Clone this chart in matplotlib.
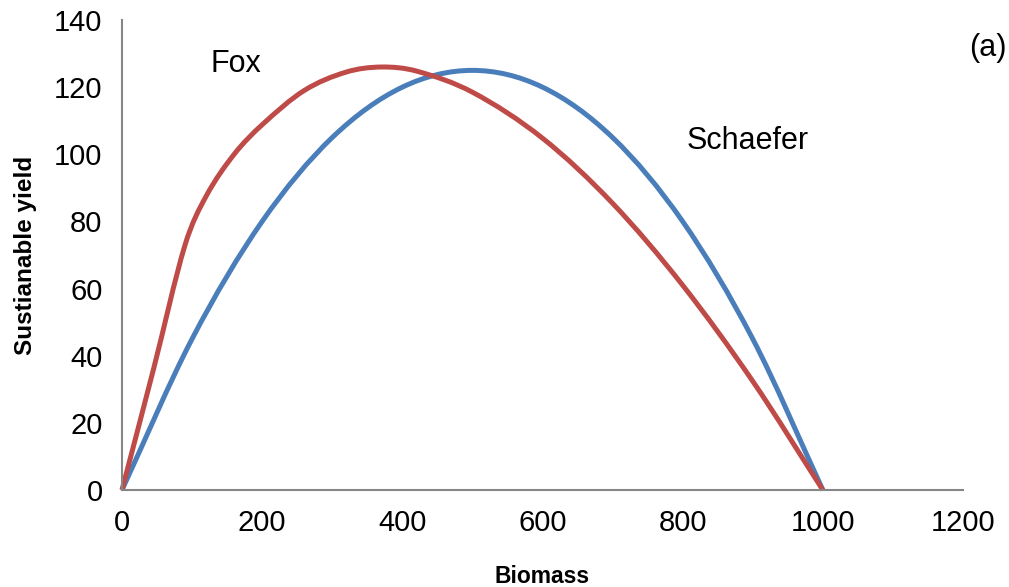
import matplotlib
matplotlib.use("Agg")
import matplotlib.pyplot as plt
from matplotlib.path import Path
from matplotlib.patches import PathPatch

plt.rcParams['font.family'] = ['Liberation Sans', 'DejaVu Sans']

# Werte
biomassSchaefer = [0, 100, 200, 300, 400, 500, 600, 700, 800, 900, 1000]
yieldSchaefer = [0, 45, 80, 105, 120, 125, 120, 105, 80, 45, 0]

biomassFox = [0, 45, 90, 120, 160, 200, 260, 320, 370, 420, 500, 600, 700, 800, 900, 1000]
yieldFox = [0, 36, 73, 87.5, 100, 108.8, 119, 124.5, 126, 124.8, 118.5, 104.8, 85.4, 61.0, 32.4, 0]

xTicks = [0, 200, 400, 600, 800, 1000, 1200]
yTicks = [0, 20, 40, 60, 80, 100, 120, 140]


def smoothLine(ax, xs, ys, color):
    """ geglaettete Linie wie in Excel (Hermite-Kurve als Bezier) """
    n = len(xs)
    # Steigung an jedem Punkt
    slopes = []
    for i in range(n):
        a = max(i - 1, 0)
        b = min(i + 1, n - 1)
        slopes.append((ys[b] - ys[a]) / (xs[b] - xs[a]))
    verts = [(xs[0], ys[0])]
    codes = [Path.MOVETO]
    for i in range(n - 1):
        h = (xs[i + 1] - xs[i]) / 3.0
        c1 = (xs[i] + h, ys[i] + slopes[i] * h)
        c2 = (xs[i + 1] - h, ys[i + 1] - slopes[i + 1] * h)
        verts += [c1, c2, (xs[i + 1], ys[i + 1])]
        codes += [Path.CURVE4] * 3
    patch = PathPatch(Path(verts, codes), facecolor='none', edgecolor=color,
                      linewidth=3.6, joinstyle='round', capstyle='butt', clip_on=False)
    ax.add_patch(patch)


fig = plt.figure(figsize=(10.09, 5.87), dpi=100)
ax = fig.add_axes([0.1209, 0.1653, 0.8335, 0.8006])

smoothLine(ax, biomassSchaefer, yieldSchaefer, '#4A7EBB')
smoothLine(ax, biomassFox, yieldFox, '#BE4B48')

ax.set_xlim(0, 1200)
ax.set_ylim(0, 140)
ax.set_xticks(xTicks)
ax.set_yticks(yTicks)
ax.tick_params(length=0, labelsize=21, pad=14)
ax.tick_params(axis='y', pad=14)

for side in ['top', 'right']:
    ax.spines[side].set_visible(False)
for side in ['left', 'bottom']:
    ax.spines[side].set_color('#868686')
    ax.spines[side].set_linewidth(1.5)

ax.set_xlabel('Biomass', fontsize=16.5, fontweight='bold', labelpad=20)
ax.set_ylabel('Sustianable yield', fontsize=17.5, fontweight='bold', labelpad=12)

# Beschriftungen der Kurven
ax.text(126, 127, 'Fox', fontsize=22, va='center')
ax.text(806, 104, 'Schaefer', fontsize=22, va='center')
ax.text(1209, 131.7, '(a)', fontsize=22, va='center')

fig.savefig('out.png', dpi=100)
